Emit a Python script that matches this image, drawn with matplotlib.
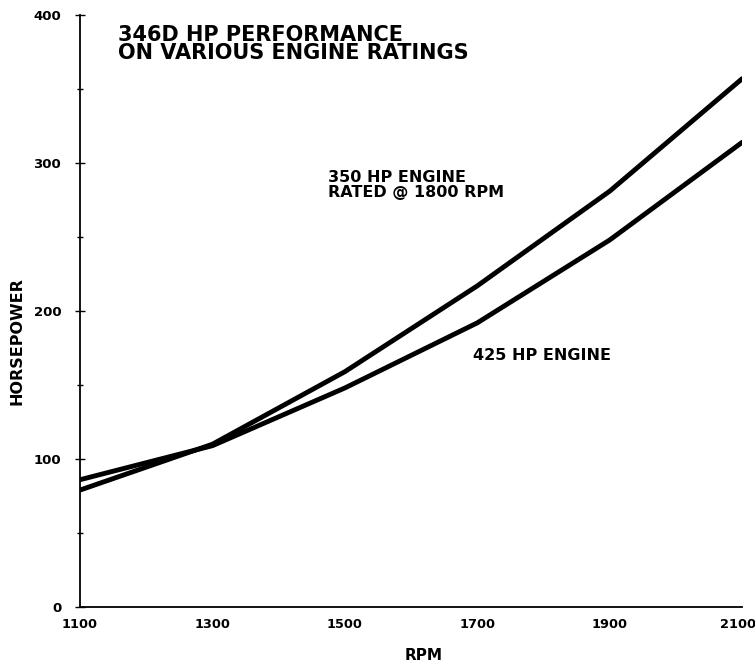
import matplotlib.pyplot as plt
from matplotlib.ticker import MultipleLocator
from matplotlib.transforms import ScaledTranslation

plt.rcParams['font.family'] = ['DejaVu Sans']
plt.rcParams['font.weight'] = 'bold'

# RPM e potencias
rpm = [1100, 1300, 1500, 1700, 1900, 2100]
hp_350 = [79, 110, 159, 217, 281, 357]
hp_425 = [86, 109, 148, 192, 248, 314]

fig = plt.figure(figsize=(7.55, 6.71), dpi=100)
ax = fig.add_axes([0.106, 0.0954, 0.877, 0.8822])

ax.plot(rpm, hp_350, color='black', linewidth=3.5, solid_capstyle='round')
ax.plot(rpm, hp_425, color='black', linewidth=3.5, solid_capstyle='round')

ax.set_xlim(1100, 2100)
ax.set_ylim(0, 400)
ax.set_xticks(rpm)
ax.set_yticks([0, 100, 200, 300, 400])
ax.yaxis.set_minor_locator(MultipleLocator(50))
ax.tick_params(axis='x', length=0, pad=8, labelsize=9.3)
ax.tick_params(axis='y', which='major', direction='inout', length=7, width=1,
               labelsize=9.5, pad=10)
ax.tick_params(axis='y', which='minor', direction='inout', length=4, width=1)

# ultimo rotulo um pouco para dentro para nao cortar
last = ax.get_xticklabels()[-1]
last.set_transform(last.get_transform() + ScaledTranslation(-0.04, 0, fig.dpi_scale_trans))

ax.spines['top'].set_visible(False)
ax.spines['right'].set_visible(False)
ax.spines['left'].set_linewidth(1.3)
ax.spines['bottom'].set_linewidth(1.3)

fig.text(0.156, 0.963, '346D HP PERFORMANCE\nON VARIOUS ENGINE RATINGS',
         fontsize=15, va='top', ha='left', linespacing=0.9)
ax.text(1475, 285, '350 HP ENGINE\nRATED @ 1800 RPM', fontsize=11.5,
        va='center', ha='left', linespacing=1.0)
ax.text(1694, 170, '425 HP ENGINE', fontsize=11.5, va='center', ha='left')

fig.text(0.023, 0.492, 'HORSEPOWER', rotation=90, fontsize=11.5,
         va='center', ha='center')
fig.text(0.561, 0.012, 'RPM', fontsize=11, va='bottom', ha='center')

fig.savefig('out.png', dpi=100)
